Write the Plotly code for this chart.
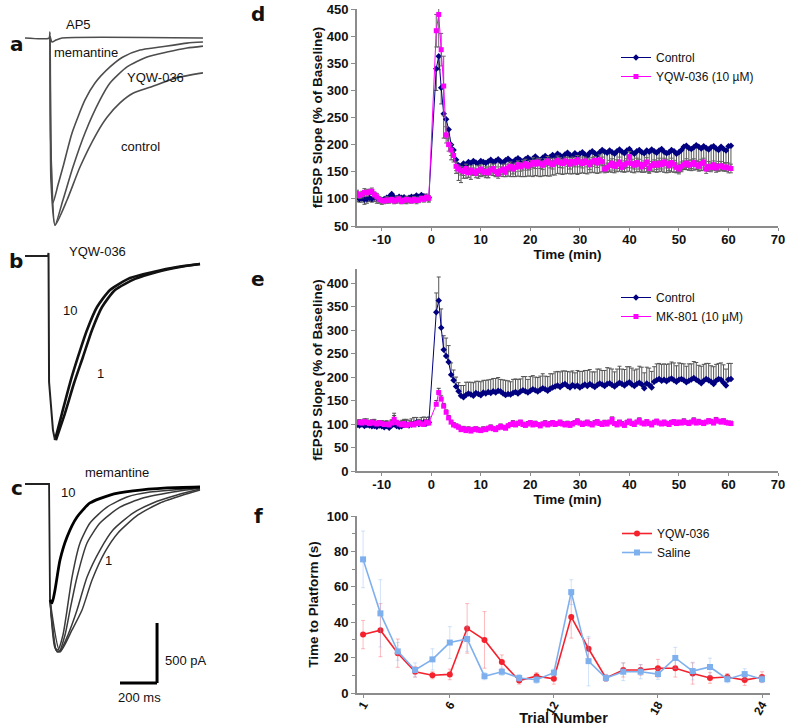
import plotly.graph_objects as go

W, H = 787, 726
FONT = "Liberation Sans, Arial, sans-serif"

# ---------------- left column: current traces (ms, pA) ----------------
# panel a
a_control_t = [-135, -5, 0, 5, 27, 92, 162, 254, 308, 378, 448, 540, 686, 826]
a_control_i = [0, 0, 50, -1180, -1560, -1350, -1075, -790, -660, -540, -460, -410, -330, -290]
a_yqw_t = [0, 5, 27, 70, 124, 189, 270, 324, 416, 524, 632, 740, 826]
a_yqw_i = [0, -930, -1558, -1350, -1075, -791, -516, -375, -241, -158, -117, -83, -67]
a_mem_t = [0, 5, 16, 43, 70, 119, 189, 243, 324, 394, 486, 594, 740, 826]
a_mem_i = [0, -930, -1375, -1225, -1075, -791, -516, -375, -241, -158, -100, -75, -42, -33]
a_ap5_t = [0, 11, 32, 65, 826]
a_ap5_i = [17, -33, -17, 0, 0]

# panel b
b_base_t = [-135, -11, -8, -5, 16, 27]
b_base_i = [0, 0, 25, -1050, -1450, -1533]
b_10_t = [27, 65, 108, 151, 200, 254, 324, 432, 556, 686, 810]
b_10_i = [-1533, -1308, -1058, -841, -616, -425, -283, -183, -133, -92, -67]
b_1_t = [32, 81, 130, 178, 227, 281, 351, 459, 578, 702, 810]
b_1_i = [-1533, -1308, -1058, -841, -616, -425, -283, -191, -133, -92, -67]

# panel c
c_base_t = [-135, -5, 0]
c_base_i = [0, 0, -966]
c_10_t = [0, 11, 27, 54, 92, 146, 216, 324, 448, 632, 810]
c_10_i = [-966, -991, -883, -633, -441, -275, -158, -92, -58, -33, -25]
c_2_t = [0, 27, 43, 70, 92, 119, 162, 216, 308, 416, 540, 810]
c_2_i = [-966, -1366, -1383, -1258, -1050, -775, -491, -325, -192, -108, -67, -33]
c_3_t = [0, 32, 49, 81, 108, 146, 200, 270, 378, 502, 664, 810]
c_3_i = [-966, -1383, -1399, -1258, -1050, -775, -491, -325, -192, -117, -67, -33]
c_4_t = [0, 38, 59, 97, 146, 200, 270, 340, 448, 556, 686, 810]
c_4_i = [-966, -1399, -1383, -1258, -1050, -775, -550, -383, -242, -158, -92, -42]
c_5_t = [0, 54, 119, 173, 227, 297, 367, 475, 594, 718, 810]
c_5_i = [-966, -1399, -1216, -1050, -800, -566, -408, -258, -158, -92, -50]

SCALE_MS = 200
SCALE_PA = 500

# ---------------- panel d / e: fEPSP slope ----------------
base_t = [-15 + 0.5 * i for i in range(30)]
post_t = [1 + 0.5 * i for i in range(120)]
time_min = base_t + post_t
time_ticks = [-10, 0, 10, 20, 30, 40, 50, 60, 70]
time_labels = ["-10", "0", "10", "20", "30", "40", "50", "60", "70"]

d_control = [
    103, 100, 101, 99, 100, 102, 100, 103, 101, 99, 98, 100, 102, 104, 109,
    103, 101, 104, 102, 103, 100, 102, 104, 103, 106, 104, 107, 105, 104, 102,
    340, 363, 305, 257, 247, 228, 200, 190, 172, 162,
    160, 165, 163, 168, 166, 170, 167, 165, 170, 168,
    166, 169, 172, 168, 170, 173, 169, 167, 171, 174,
    170, 168, 172, 175, 171, 169, 173, 176, 172, 174,
    178, 174, 171, 176, 179, 175, 177, 181, 178, 183,
    180, 177, 182, 185, 181, 179, 184, 180, 183, 186,
    182, 179, 185, 188, 184, 181, 186, 190, 187, 185,
    189, 186, 183, 188, 191, 187, 184, 189, 192, 186,
    183, 188, 190, 186, 184, 189, 187, 191, 188, 185,
    189, 192, 187, 184, 186, 190, 188, 183, 186, 190,
    196, 198, 194, 192, 195, 199, 196, 193, 197, 194,
    191, 195, 197, 193, 190, 196, 192, 189, 197, 198,
]
d_control_err = [
    8, 6, 7, 9, 8, 7, 6, 8, 9, 7, 8, 6, 7, 9, 8,
    7, 8, 6, 7, 8, 9, 7, 6, 8, 7, 9, 8, 7, 6, 8,
    40, 25, 30, 45, 35, 30, 28, 22, 25, 28,
    30, 27, 25, 28, 30, 26, 24, 27, 29, 25,
    27, 30, 28, 25, 29, 31, 27, 26, 30, 32,
    29, 27, 31, 33, 30, 28, 32, 34, 30, 33,
    35, 32, 30, 34, 36, 33, 35, 37, 34, 36,
    34, 32, 36, 38, 35, 33, 37, 35, 36, 38,
    35, 33, 37, 39, 36, 34, 38, 40, 37, 36,
    39, 37, 35, 38, 40, 37, 35, 39, 41, 37,
    35, 38, 40, 37, 35, 39, 38, 40, 38, 36,
    39, 41, 38, 36, 37, 40, 39, 35, 37, 40,
    42, 44, 41, 40, 42, 45, 43, 41, 44, 42,
    40, 42, 44, 41, 39, 43, 40, 38, 42, 43,
]
d_yqw = [
    110, 106, 108, 112, 111, 113, 114, 108, 104, 99, 97, 96, 98, 97, 99,
    96, 98, 100, 95, 97, 99, 98, 96, 99, 97, 98, 101, 99, 103, 101,
    410, 440, 375, 308, 218, 200, 190, 180, 160, 155,
    152, 150, 156, 148, 153, 150, 147, 152, 155, 149,
    151, 148, 153, 156, 150, 146, 152, 155, 149, 157,
    160, 155, 158, 163, 159, 162, 165, 160, 163, 167,
    164, 168, 165, 162, 167, 170, 166, 163, 168, 171,
    167, 165, 170, 168, 164, 169, 166, 172, 168, 165,
    170, 167, 163, 168, 171, 166, 172, 169, 155, 158,
    162, 166, 160, 164, 168, 158, 163, 166, 178, 165,
    162, 167, 164, 159, 163, 168, 156, 161, 165, 162,
    166, 163, 168, 165, 161, 167, 164, 158, 155, 160,
    163, 166, 162, 164, 167, 163, 160, 165, 168, 155,
    160, 158, 163, 157, 160, 161, 158, 159, 157, 156,
]
d_yqw_err = [
    6, 5, 6, 7, 6, 5, 6, 5, 6, 5, 4, 5, 6, 5, 4,
    5, 6, 5, 4, 5, 6, 5, 4, 5, 6, 5, 4, 5, 6, 5,
    30, 60, 30, 55, 15, 12, 10, 8, 8, 7,
    8, 7, 8, 9, 8, 7, 8, 9, 8, 7,
    8, 9, 7, 8, 9, 8, 7, 9, 8, 7,
    8, 9, 8, 7, 8, 9, 8, 7, 8, 9,
    8, 7, 9, 8, 7, 8, 9, 8, 7, 8,
    9, 8, 7, 8, 9, 8, 7, 8, 9, 8,
    7, 8, 9, 8, 7, 8, 9, 8, 7, 8,
    9, 8, 7, 8, 9, 8, 7, 8, 9, 8,
    7, 8, 9, 8, 7, 8, 9, 8, 7, 8,
    9, 8, 7, 8, 9, 8, 7, 8, 9, 8,
    7, 8, 9, 8, 7, 8, 9, 8, 7, 8,
    9, 8, 7, 8, 9, 8, 7, 8, 9, 8,
]

e_control = [
    98, 97, 99, 96, 98, 97, 95, 96, 94, 97, 95, 93, 96, 92, 97,
    99, 96, 94, 95, 98, 100, 97, 99, 101, 103, 100, 102, 104, 101, 103,
    338, 363, 305, 258, 245, 232, 205, 193, 180, 170,
    160, 157, 162, 165, 163, 160, 166, 164, 161, 167,
    165, 168, 166, 170, 167, 171, 169, 165, 162, 164,
    163, 166, 168, 165, 169, 172, 170, 167, 171, 174,
    172, 169, 173, 176, 174, 171, 175, 178, 180, 182,
    179, 183, 185, 181, 178, 183, 180, 182, 178, 181,
    184, 181, 185, 182, 179, 183, 186, 184, 181, 185,
    187, 183, 180, 184, 188, 185, 182, 186, 189, 184,
    181, 185, 188, 184, 176, 186, 183, 178, 190, 193,
    196, 192, 194, 191, 195, 197, 193, 190, 194, 196,
    193, 189, 192, 195, 198, 194, 191, 187, 192, 196,
    193, 190, 185, 192, 196, 194, 188, 182, 195, 196,
]
e_control_err = [
    10, 12, 9, 11, 13, 10, 12, 14, 11, 10, 12, 13, 11, 9, 12,
    24, 10, 11, 13, 12, 10, 11, 12, 13, 11, 10, 12, 11, 13, 12,
    41, 50, 40, 30, 38, 35, 25, 22, 20, 18,
    22, 25, 27, 24, 26, 28, 25, 27, 29, 26,
    28, 26, 29, 27, 30, 28, 26, 29, 31, 28,
    27, 29, 28, 30, 27, 29, 31, 28, 30, 29,
    28, 30, 29, 31, 28, 30, 32, 29, 31, 30,
    32, 30, 28, 31, 33, 30, 29, 32, 34, 31,
    30, 33, 31, 29, 32, 34, 31, 30, 33, 35,
    32, 34, 31, 33, 35, 32, 34, 36, 33, 35,
    34, 32, 35, 37, 33, 35, 36, 34, 32, 35,
    33, 35, 34, 36, 33, 35, 37, 34, 36, 33,
    35, 34, 36, 33, 35, 37, 34, 36, 35, 33,
    36, 34, 37, 35, 33, 36, 38, 35, 34, 33,
]
e_mk801 = [
    103, 104, 102, 105, 103, 101, 104, 102, 100, 103, 101, 99, 100, 98, 102,
    110, 103, 100, 98, 101, 97, 99, 100, 98, 101, 103, 100, 99, 104, 102,
    142, 167, 153, 138, 125, 113, 104, 98, 96, 93,
    88, 90, 86, 89, 85, 88, 90, 87, 86, 89,
    88, 91, 93, 90, 88, 92, 95, 93, 91, 96,
    99, 102, 98, 101, 104, 99, 97, 100, 103, 98,
    101, 99, 96, 100, 102, 98, 100, 103, 99, 101,
    104, 100, 98, 101, 97, 100, 103, 106, 102, 99,
    101, 104, 100, 98, 102, 105, 101, 99, 103, 100,
    104, 110, 101, 98, 104, 100, 97, 103, 106, 101,
    99, 104, 108, 102, 100, 105, 101, 98, 103, 106,
    102, 100, 104, 101, 99, 103, 105, 101, 104, 102,
    106, 103, 101, 104, 108, 102, 105, 103, 101, 104,
    107, 105, 102, 109, 106, 104, 107, 103, 102, 101,
]
e_mk801_err = [
    5, 4, 5, 6, 5, 4, 5, 6, 5, 4, 5, 6, 5, 4, 5,
    8, 5, 4, 5, 6, 5, 4, 5, 6, 5, 4, 5, 6, 5, 4,
    8, 9, 7, 6, 5, 5, 4, 5, 4, 5,
    4, 5, 4, 5, 4, 5, 4, 5, 4, 5,
    5, 4, 5, 4, 5, 4, 5, 4, 5, 4,
    4, 5, 4, 5, 4, 5, 4, 5, 4, 5,
    5, 4, 5, 4, 5, 4, 5, 4, 5, 4,
    4, 5, 4, 5, 4, 5, 4, 5, 4, 5,
    5, 4, 5, 4, 5, 4, 5, 4, 5, 4,
    4, 5, 4, 5, 4, 5, 4, 5, 4, 5,
    5, 4, 5, 4, 5, 4, 5, 4, 5, 4,
    4, 5, 4, 5, 4, 5, 4, 5, 4, 5,
    5, 4, 5, 4, 5, 4, 5, 4, 5, 4,
    4, 5, 4, 5, 4, 5, 4, 5, 4, 5,
]

# ---------------- panel f: water maze ----------------
trials = list(range(1, 25))
f_yqw = [33, 35.5, 22.5, 12, 10, 10.5, 36.5, 30, 17.5, 7, 9.5, 8,
         43, 25, 8.5, 13, 13, 14, 14, 11, 8.5, 9, 7.3, 9]
f_yqw_err = [8, 15, 8, 3, 2, 3, 14, 16, 4, 2, 2, 3,
             12, 6, 2, 4, 3, 5, 5, 6, 3, 2, 3, 3]
f_saline = [75.5, 45, 23.5, 13, 19, 28.5, 30.5, 9.5, 12, 8.5, 7.5, 11.5,
            57, 18, 8.5, 12, 12, 10.7, 19.8, 12.4, 14.7, 7.8, 10.7, 7.8]
f_saline_err = [16, 19, 5, 4, 6, 9, 7, 2, 2, 2, 2, 2,
                7, 14, 2, 5, 4, 3, 6, 5, 5, 2, 3, 2]

NAVY = "#000080"
MAGENTA = "#ff00ff"
RED = "#f5222d"
BLUE = "#7fb0ee"


def px(x):
    return x / W


def py(y):
    return 1 - y / H


fig = go.Figure()

# left traces: (x axis, y axis, [(t, i)], colour, width)
trace_sets = [
    ("x4", "y4", [(a_control_t, a_control_i), (a_yqw_t, a_yqw_i), (a_mem_t, a_mem_i), (a_ap5_t, a_ap5_i)], "#4d4d4d", 1.6),
    ("x5", "y5", [(b_10_t, b_10_i), (b_1_t, b_1_i)], "#111111", 2.6),
    ("x6", "y6", [(c_2_t, c_2_i), (c_3_t, c_3_i), (c_4_t, c_4_i), (c_5_t, c_5_i)], "#3a3a3a", 1.5),
]
for xa, ya, series, color, width in trace_sets:
    for t, i in series:
        fig.add_trace(go.Scatter(x=t, y=i, xaxis=xa, yaxis=ya, mode="lines",
                                 line=dict(color=color, width=width, shape="spline", smoothing=0.6),
                                 showlegend=False, hoverinfo="skip"))
for xa, ya, t, i, width in [("x5", "y5", b_base_t, b_base_i, 2.0), ("x6", "y6", c_base_t, c_base_i, 1.8)]:
    fig.add_trace(go.Scatter(x=t, y=i, xaxis=xa, yaxis=ya, mode="lines",
                             line=dict(color="#222222", width=width),
                             showlegend=False, hoverinfo="skip"))
fig.add_trace(go.Scatter(x=c_10_t, y=c_10_i, xaxis="x6", yaxis="y6", mode="lines",
                         line=dict(color="#000000", width=2.8, shape="spline", smoothing=0.6),
                         showlegend=False, hoverinfo="skip"))

# d
fig.add_trace(go.Scatter(
    x=time_min, y=d_control, mode="lines+markers", name="Control", legend="legend",
    line=dict(color=NAVY, width=1), marker=dict(symbol="diamond", size=5, color=NAVY),
    error_y=dict(type="data", symmetric=False, array=[0] * len(d_control), arrayminus=d_control_err,
                 color="#555555", thickness=1, width=2),
))
fig.add_trace(go.Scatter(
    x=time_min, y=d_yqw, mode="lines+markers", name="YQW-036 (10 µM)", legend="legend",
    line=dict(color=MAGENTA, width=1), marker=dict(symbol="square", size=5, color=MAGENTA),
    error_y=dict(type="data", array=d_yqw_err, color="#666666", thickness=1, width=2),
))
# e
fig.add_trace(go.Scatter(
    x=time_min, y=e_control, mode="lines+markers", name="Control", legend="legend2",
    xaxis="x2", yaxis="y2",
    line=dict(color=NAVY, width=1), marker=dict(symbol="diamond", size=5, color=NAVY),
    error_y=dict(type="data", symmetric=False, array=e_control_err, arrayminus=[0] * len(e_control),
                 color="#555555", thickness=1, width=2),
))
fig.add_trace(go.Scatter(
    x=time_min, y=e_mk801, mode="lines+markers", name="MK-801 (10 µM)", legend="legend2",
    xaxis="x2", yaxis="y2",
    line=dict(color=MAGENTA, width=1), marker=dict(symbol="square", size=5, color=MAGENTA),
    error_y=dict(type="data", symmetric=False, array=e_mk801_err, arrayminus=[0] * len(e_mk801),
                 color="#444444", thickness=1, width=2),
))
# f
fig.add_trace(go.Scatter(
    x=trials, y=f_yqw, mode="lines+markers", name="YQW-036", legend="legend3",
    xaxis="x3", yaxis="y3",
    line=dict(color=RED, width=1.6), marker=dict(symbol="circle", size=6, color=RED),
    error_y=dict(type="data", array=f_yqw_err, color="rgba(245,34,45,0.3)", thickness=1, width=2),
))
fig.add_trace(go.Scatter(
    x=trials, y=f_saline, mode="lines+markers", name="Saline", legend="legend3",
    xaxis="x3", yaxis="y3",
    line=dict(color=BLUE, width=1.6), marker=dict(symbol="square", size=6, color=BLUE),
    error_y=dict(type="data", array=f_saline_err, color="rgba(127,176,238,0.35)", thickness=1, width=2),
))

tick_font = dict(family=FONT, size=13, color="#111", weight="bold")
title_font = dict(family=FONT, size=13.5, color="#111", weight="bold")
axis_common = dict(showline=True, linecolor="#8c8c8c", linewidth=2, ticks="outside",
                   tickcolor="#8c8c8c", showgrid=False, zeroline=False, automargin=False)
hidden = dict(visible=False, showgrid=False, zeroline=False, fixedrange=True, automargin=False)
legend_common = dict(xanchor="left", yanchor="top", bgcolor="rgba(0,0,0,0)",
                     font=dict(family=FONT, size=12, color="#111"), itemwidth=30, tracegroupgap=0)

x_dom = [px(357), px(778)]
fig.update_layout(
    width=W, height=H,
    margin=dict(l=0, r=0, t=0, b=0, autoexpand=False),
    paper_bgcolor="white", plot_bgcolor="white",
    font=dict(family=FONT, color="#111"),
    xaxis=dict(domain=x_dom, anchor="y", range=[-15, 70], tickvals=time_ticks, ticktext=time_labels,
               ticklen=3, ticklabelstandoff=-3, tickfont=tick_font,
               title=dict(text="Time (min)", font=title_font, standoff=0), **axis_common),
    yaxis=dict(domain=[py(226), py(9)], anchor="x", range=[50, 450], dtick=50, ticklen=4, tickfont=tick_font,
               title=dict(text="fEPSP Slope (% of Baseline)", font=title_font, standoff=1), **axis_common),
    xaxis2=dict(domain=x_dom, anchor="y2", range=[-15, 70], tickvals=time_ticks, ticktext=time_labels,
                ticklen=3, ticklabelstandoff=-3, tickfont=tick_font,
                title=dict(text="Time (min)", font=title_font, standoff=0), **axis_common),
    yaxis2=dict(domain=[py(471), py(269)], anchor="x2", range=[0, 430], dtick=50, ticklen=4, tickfont=tick_font,
                title=dict(text="fEPSP Slope (% of Baseline)", font=title_font, standoff=1), **axis_common),
    xaxis3=dict(domain=[px(357), px(770)], anchor="y3", range=[0.65, 24.46], tickvals=[1, 6, 12, 18, 24],
                tickangle=-60, ticklen=3, ticklabelstandoff=-5,
                tickfont=dict(family=FONT, size=12, color="#111", weight="bold"),
                title=dict(text="Trial Number", font=dict(family=FONT, size=14.5, color="#111", weight="bold"), standoff=2),
                **axis_common),
    yaxis3=dict(domain=[py(693), py(516)], anchor="x3", range=[0, 100], dtick=20, ticklen=4, tickfont=tick_font,
                minor=dict(dtick=10, ticks="outside", ticklen=3, tickcolor="#8c8c8c"),
                title=dict(text="Time to Platform (s)", font=title_font, standoff=5), **axis_common),
    xaxis4=dict(domain=[0, px(210)], anchor="y4", range=[-270, 864], **hidden),
    yaxis4=dict(domain=[py(240), 1], anchor="x4", range=[-1683, 317], **hidden),
    xaxis5=dict(domain=[0, px(210)], anchor="y5", range=[-270, 864], **hidden),
    yaxis5=dict(domain=[py(460), py(240)], anchor="x5", range=[-1699, 133], **hidden),
    xaxis6=dict(domain=[0, px(210)], anchor="y6", range=[-270, 864], **hidden),
    yaxis6=dict(domain=[0, py(460)], anchor="x6", range=[-2016, 200], **hidden),
    legend=dict(x=px(616), y=py(43), **legend_common),
    legend2=dict(x=px(616), y=py(283), **legend_common),
    legend3=dict(x=px(617), y=py(519), **legend_common),
)

# scale bar in panel c
t0, i0 = 578 - SCALE_MS, -1658
fig.add_shape(type="line", xref="x6", yref="y6", x0=t0, x1=t0 + SCALE_MS, y0=i0, y1=i0,
              line=dict(color="black", width=3))
fig.add_shape(type="line", xref="x6", yref="y6", x0=t0 + SCALE_MS, x1=t0 + SCALE_MS, y0=i0, y1=i0 + SCALE_PA,
              line=dict(color="black", width=3))

notes = [
    ("AP5", 78, 25, "center"), ("memantine", 52, 52, "left"), ("YQW-036", 155, 77, "center"),
    ("control", 140, 146, "center"),
    ("YQW-036", 97, 251, "center"), ("10", 70, 310, "center"), ("1", 100, 373, "center"),
    ("memantine", 117, 472, "center"), ("10", 68, 492, "center"), ("1", 108, 560, "center"),
    ("500 pA", 163, 660, "left"), ("200 ms", 139, 697, "center"),
]
for text, x, y, anchor in notes:
    fig.add_annotation(text=text, x=px(x), y=py(y), xref="paper", yref="paper", showarrow=False,
                       xanchor=anchor, yanchor="middle", font=dict(family=FONT, size=13, color="#111"))

letters = [("a", 17, 44), ("b", 16, 261), ("c", 17, 488), ("d", 258, 14), ("e", 258, 279), ("f", 258, 516)]
for text, x, y in letters:
    fig.add_annotation(text=text, x=px(x), y=py(y), xref="paper", yref="paper", showarrow=False,
                       xanchor="center", yanchor="middle",
                       font=dict(family="DejaVu Sans, Arial", size=20, color="#111", weight="bold"))

fig.write_html("out.html", config={"displayModeBar": False},
               post_script="document.body.style.margin='0';document.body.style.overflow='hidden';")
